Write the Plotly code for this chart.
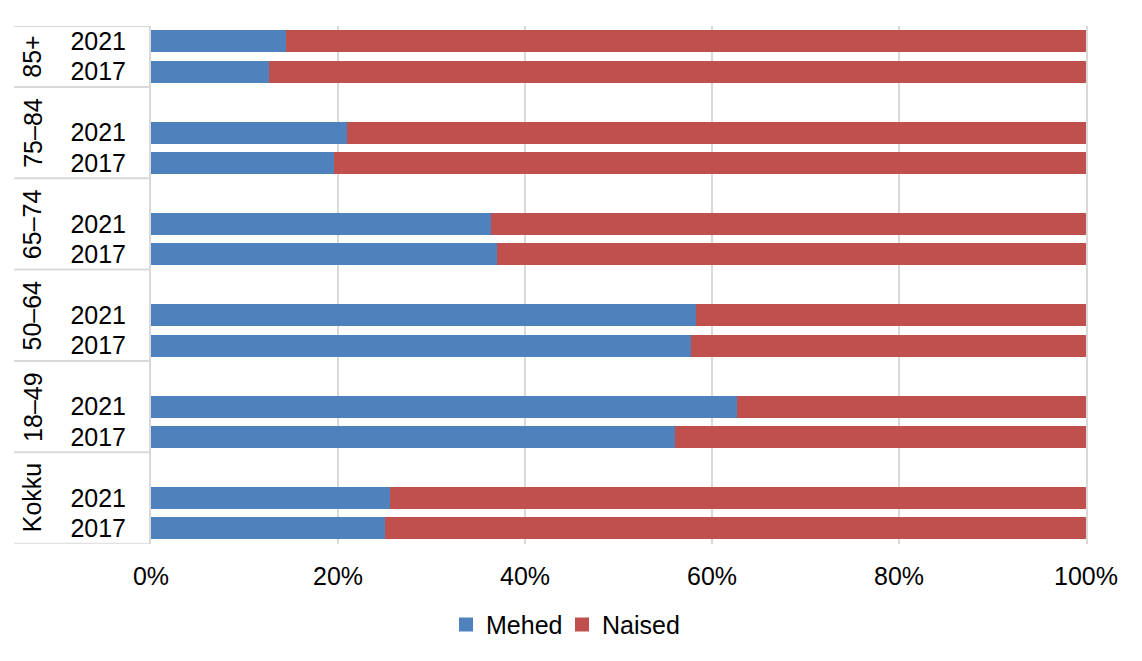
import plotly.graph_objects as go

# Data (bottom to top)
groups = ["Kokku", "18–49", "50–64", "65–74", "75–84", "85+"]
years = ["2017", "2021"]
mehed = {  # percent
    "Kokku": [25.0, 25.6],
    "18–49": [56.0, 62.7],
    "50–64": [57.8, 58.3],
    "65–74": [37.0, 36.4],
    "75–84": [19.6, 21.0],
    "85+":   [12.6, 14.4],
}
naised = {
    "Kokku": [75.0, 74.4],
    "18–49": [44.0, 37.3],
    "50–64": [42.2, 41.7],
    "65–74": [63.0, 63.6],
    "75–84": [80.4, 79.0],
    "85+":   [87.4, 85.6],
}
series_names = ["Mehed", "Naised"]
colors = ["#4F81BD", "#C0504D"]

# Build category rows: each group has 2017, 2021 and a spacer row on top (except last)
cats, ticktext, ys, m_vals, n_vals = [], [], [], [], []
group_rows = {}
for gi, g in enumerate(groups):
    start = len(cats)
    for yi, yr in enumerate(years):
        cid = f"{g}|{yr}"
        cats.append(cid)
        ticktext.append(yr)
        ys.append(cid)
        m_vals.append(mehed[g][yi] / 100)
        n_vals.append(naised[g][yi] / 100)
    if gi < len(groups) - 1:
        cats.append(f"{g}|")
        ticktext.append("")
    group_rows[g] = (start, len(cats) - 1)

fig = go.Figure()
fig.add_trace(go.Bar(y=ys, x=m_vals, name=series_names[0], orientation="h",
                     marker=dict(color=colors[0], line=dict(width=0)), showlegend=False))
fig.add_trace(go.Bar(y=ys, x=n_vals, name=series_names[1], orientation="h",
                     marker=dict(color=colors[1], line=dict(width=0)), showlegend=False))
# legend entries with larger square swatches, one legend each for exact spacing
for name, c, lg in zip(series_names, colors, ["legend", "legend2"]):
    fig.add_trace(go.Scatter(x=[None], y=[None], mode="markers", name=name,
                             marker=dict(symbol="square", size=14, color=c),
                             hoverinfo="skip", legend=lg))

grid = "#D9D9D9"
left_x = -0.1465

# group labels and dividers
boundaries = [-0.5]
for g in groups:
    s, e = group_rows[g]
    boundaries.append(e + 0.5)
    fig.add_annotation(xref="paper", yref="y", x=-0.127, y=(s - 0.5 + e + 0.5) / 2,
                       text=g, textangle=-90, showarrow=False,
                       font=dict(size=25, color="#000000"),
                       xanchor="center", yanchor="middle")
for b in boundaries:
    fig.add_shape(type="line", xref="paper", yref="y", x0=left_x, x1=0, y0=b, y1=b,
                  line=dict(color=grid, width=2))

leg_common = dict(orientation="h", xref="container", xanchor="left",
                  yref="container", y=0.055, yanchor="middle",
                  font=dict(size=25), itemwidth=30, bgcolor="rgba(0,0,0,0)")

fig.update_layout(
    width=1142, height=661,
    margin=dict(l=151, r=56, t=26, b=114),
    paper_bgcolor="white", plot_bgcolor="white",
    barmode="stack", bargap=0.28,
    font=dict(family="Liberation Sans, Arial, sans-serif", size=25, color="#000000"),
    showlegend=True,
    legend=dict(x=446 / 1142, **leg_common),
    legend2=dict(x=562 / 1142, **leg_common),
    xaxis=dict(range=[0, 1], dtick=0.2, tickformat=".0%", showgrid=True,
               gridcolor=grid, gridwidth=2, zeroline=False, showline=False,
               ticks="", ticklabelstandoff=15, fixedrange=True),
    yaxis=dict(type="category", categoryorder="array", categoryarray=cats,
               range=[-0.5, len(cats) - 0.5],
               tickmode="array", tickvals=cats, ticktext=ticktext,
               showgrid=False, zeroline=False, showline=True, linecolor=grid,
               linewidth=2, mirror=True, ticks="", ticklabelstandoff=18,
               fixedrange=True),
)

fig.write_html("out.html", config={"displayModeBar": False},
               post_script="document.body.style.margin='0';document.body.style.overflow='hidden';")
